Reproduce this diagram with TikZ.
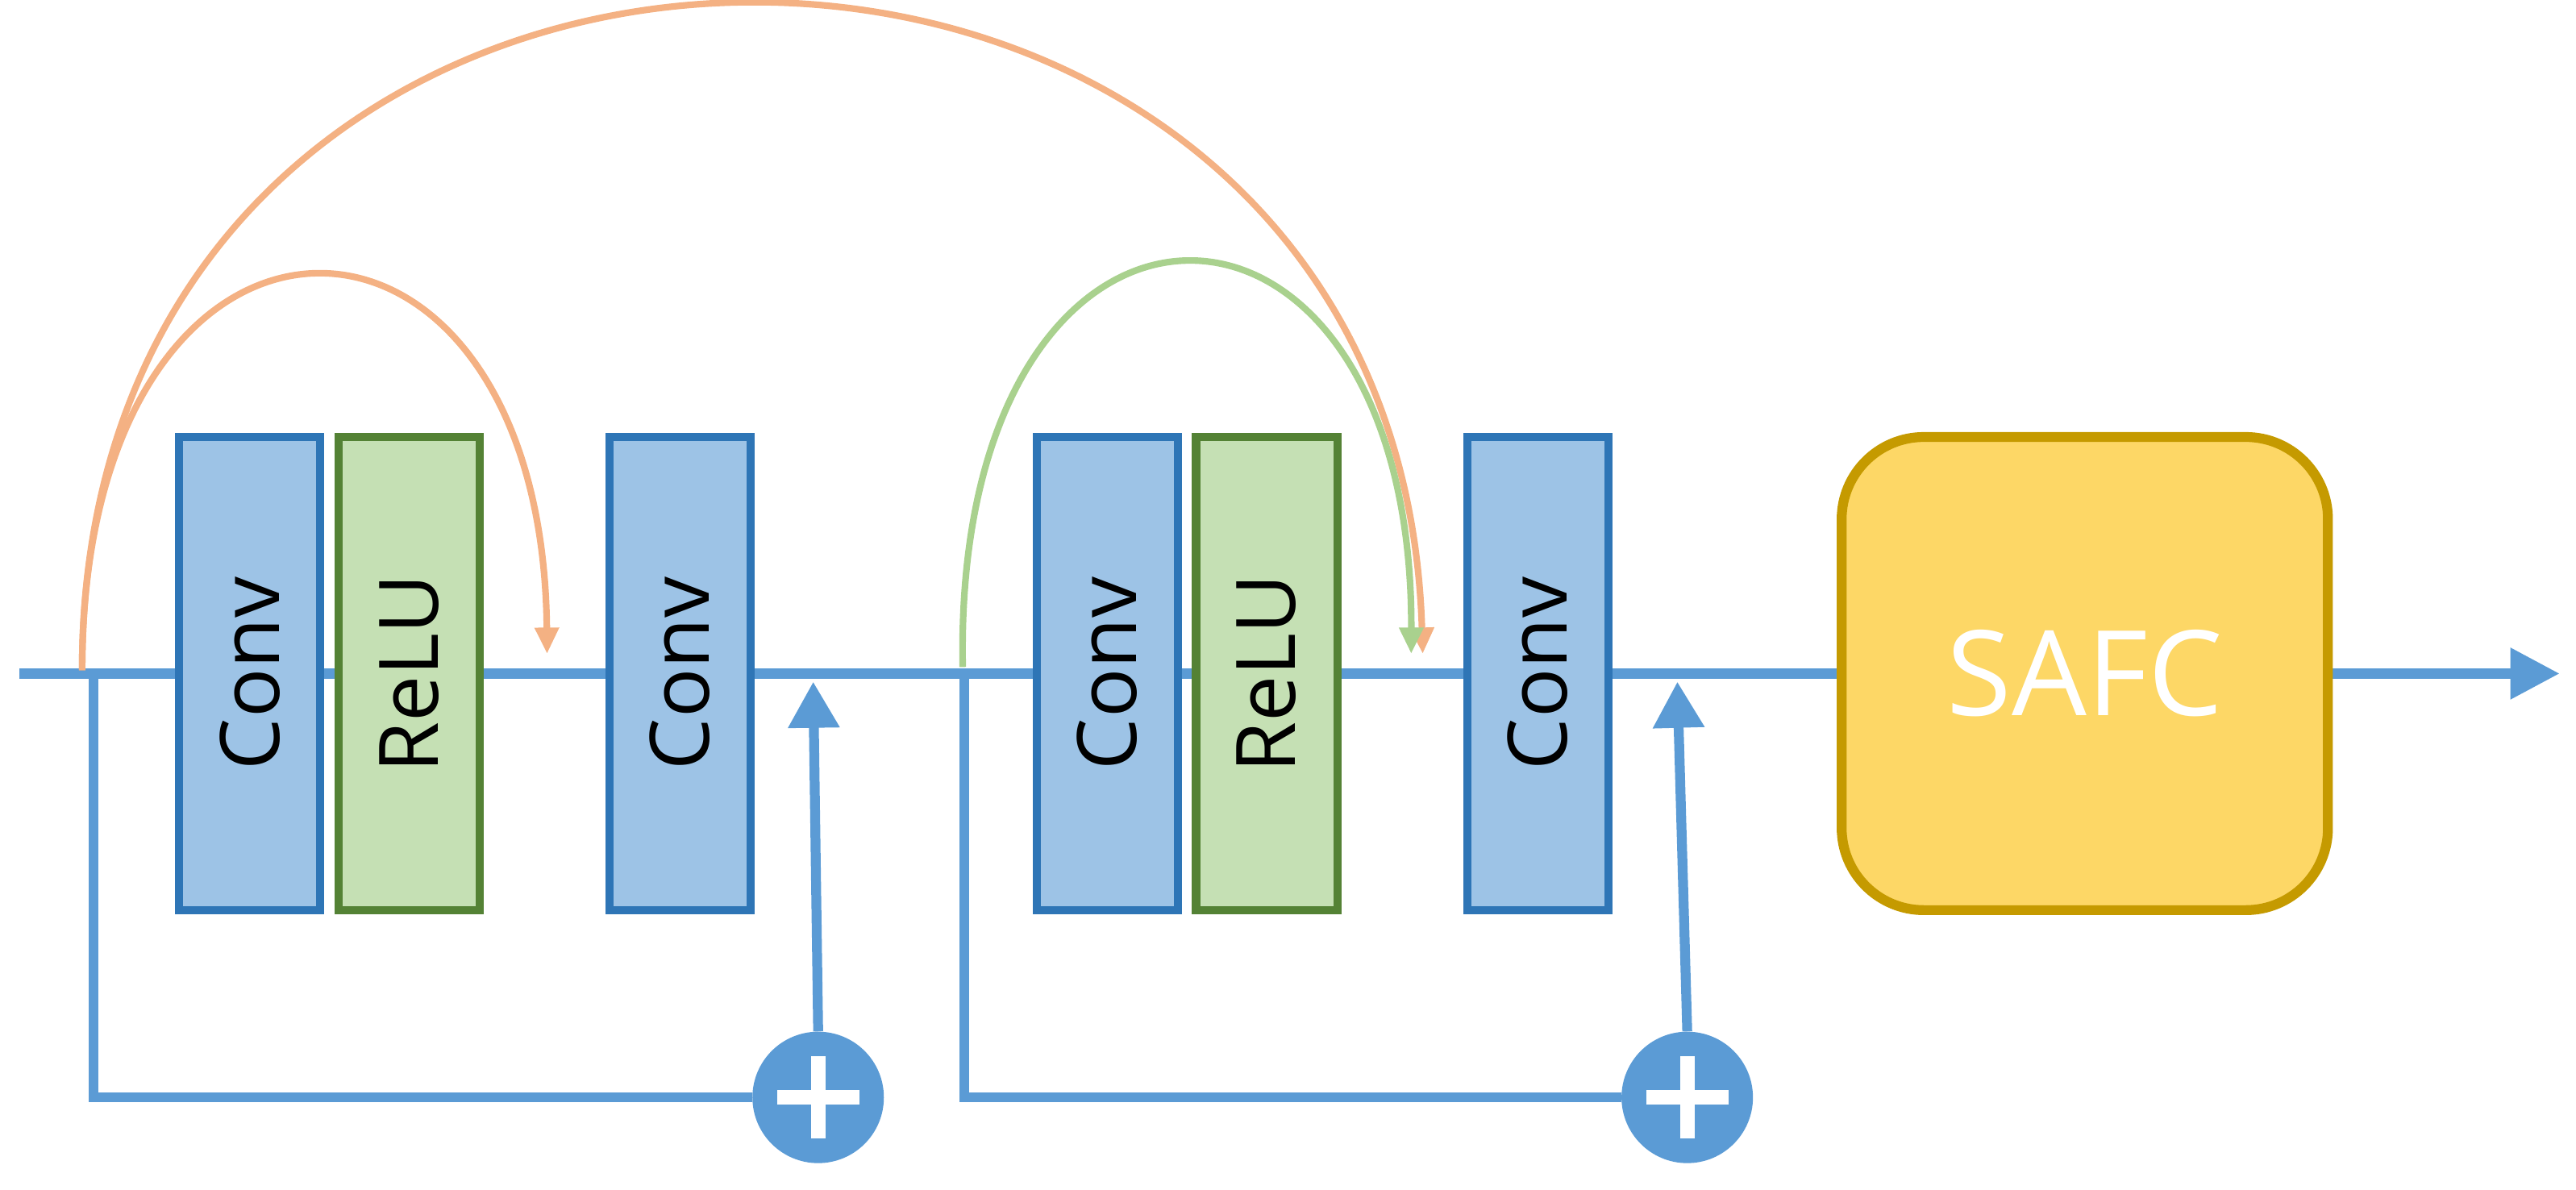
\documentclass[tikz,border=0pt]{standalone}
\usepackage{fontspec}
\setmainfont{Open Sans}
\usetikzlibrary{arrows.meta}
\definecolor{ln}{HTML}{5B9BD5}
\definecolor{bf}{HTML}{9DC3E6}
\definecolor{bd}{HTML}{2E75B6}
\definecolor{gf}{HTML}{C5E0B4}
\definecolor{gd}{HTML}{548235}
\definecolor{og}{HTML}{F4B183}
\definecolor{ga}{HTML}{A9D18E}
\definecolor{sf}{HTML}{FDD766}
\definecolor{sd}{HTML}{C59A00}
\begin{document}
\begin{tikzpicture}[x=1pt,y=-1pt,
 blk/.style={draw=bd,fill=bf,line width=5pt,minimum width=86pt,minimum height=288pt,inner sep=0pt},
 rel/.style={blk,draw=gd,fill=gf},
 lbl/.style={rotate=90,font=\fontsize{50}{50}\selectfont},
 ln/.style={draw=ln,line width=6pt},
 arc/.style={line width=4pt,-{Triangle[length=16pt,width=14pt]}},
 plus/.style={circle,fill=ln,minimum size=80pt,inner sep=0pt}]
\useasboundingbox (0,0) rectangle (1568,724);
\coordinate (s) at (12,410); \coordinate (e) at (1558,410);
\draw[ln,-{Triangle[length=30pt,width=30pt]}] (s) -- (e);
\node[blk] (c1) at (152,410) {}; \node[lbl] at (c1) {Conv};
\node[rel] (r1) at (249,410) {}; \node[lbl] at (r1) {ReLU};
\node[blk] (c2) at (414,410) {}; \node[lbl] at (c2) {Conv};
\node[blk] (c3) at (674,410) {}; \node[lbl] at (c3) {Conv};
\node[rel] (r2) at (771,410) {}; \node[lbl] at (r2) {ReLU};
\node[blk] (c4) at (936,410) {}; \node[lbl] at (c4) {Conv};
\node[draw=sd,fill=sf,line width=6pt,rounded corners=50pt,minimum width=296pt,minimum height=288pt] (safc) at (1269,410) {};
\node[text=white,font=\fontsize{72}{72}\selectfont] at (safc) {SAFC};
\node[plus] (p1) at (498,668) {}; \node[plus] (p2) at (1027,668) {};
\foreach \p in {p1,p2}{\draw[white,line width=9pt] ([xshift=-25pt]\p.center) -- ([xshift=25pt]\p.center) ([yshift=-25pt]\p.center) -- ([yshift=25pt]\p.center);}
\coordinate (a1) at (57,410); \coordinate (a2) at (587,410);
\coordinate (t1) at (495,415); \coordinate (t2) at (1021,415);
\draw[ln] (a1) |- (p1.west);
\draw[ln] (a2) |- (p2.west);
\draw[ln,-{Triangle[length=28pt,width=30pt]}] (p1.north) -- (t1);
\draw[ln,-{Triangle[length=28pt,width=30pt]}] (p2.north) -- (t2);
\coordinate (o0) at (50,408); \coordinate (o1) at (333,398); \coordinate (o2) at (866,398);
\coordinate (g0) at (586,406); \coordinate (g1) at (859,398);
\draw[arc,og] (o0) .. controls (50,-130) and (850,-130) .. (o2);
\draw[arc,ga] (g0) .. controls (580,80) and (860,80) .. (g1);
\draw[arc,og] (o0) .. controls (50,90) and (330,90) .. (o1);
\end{tikzpicture}
\end{document}
